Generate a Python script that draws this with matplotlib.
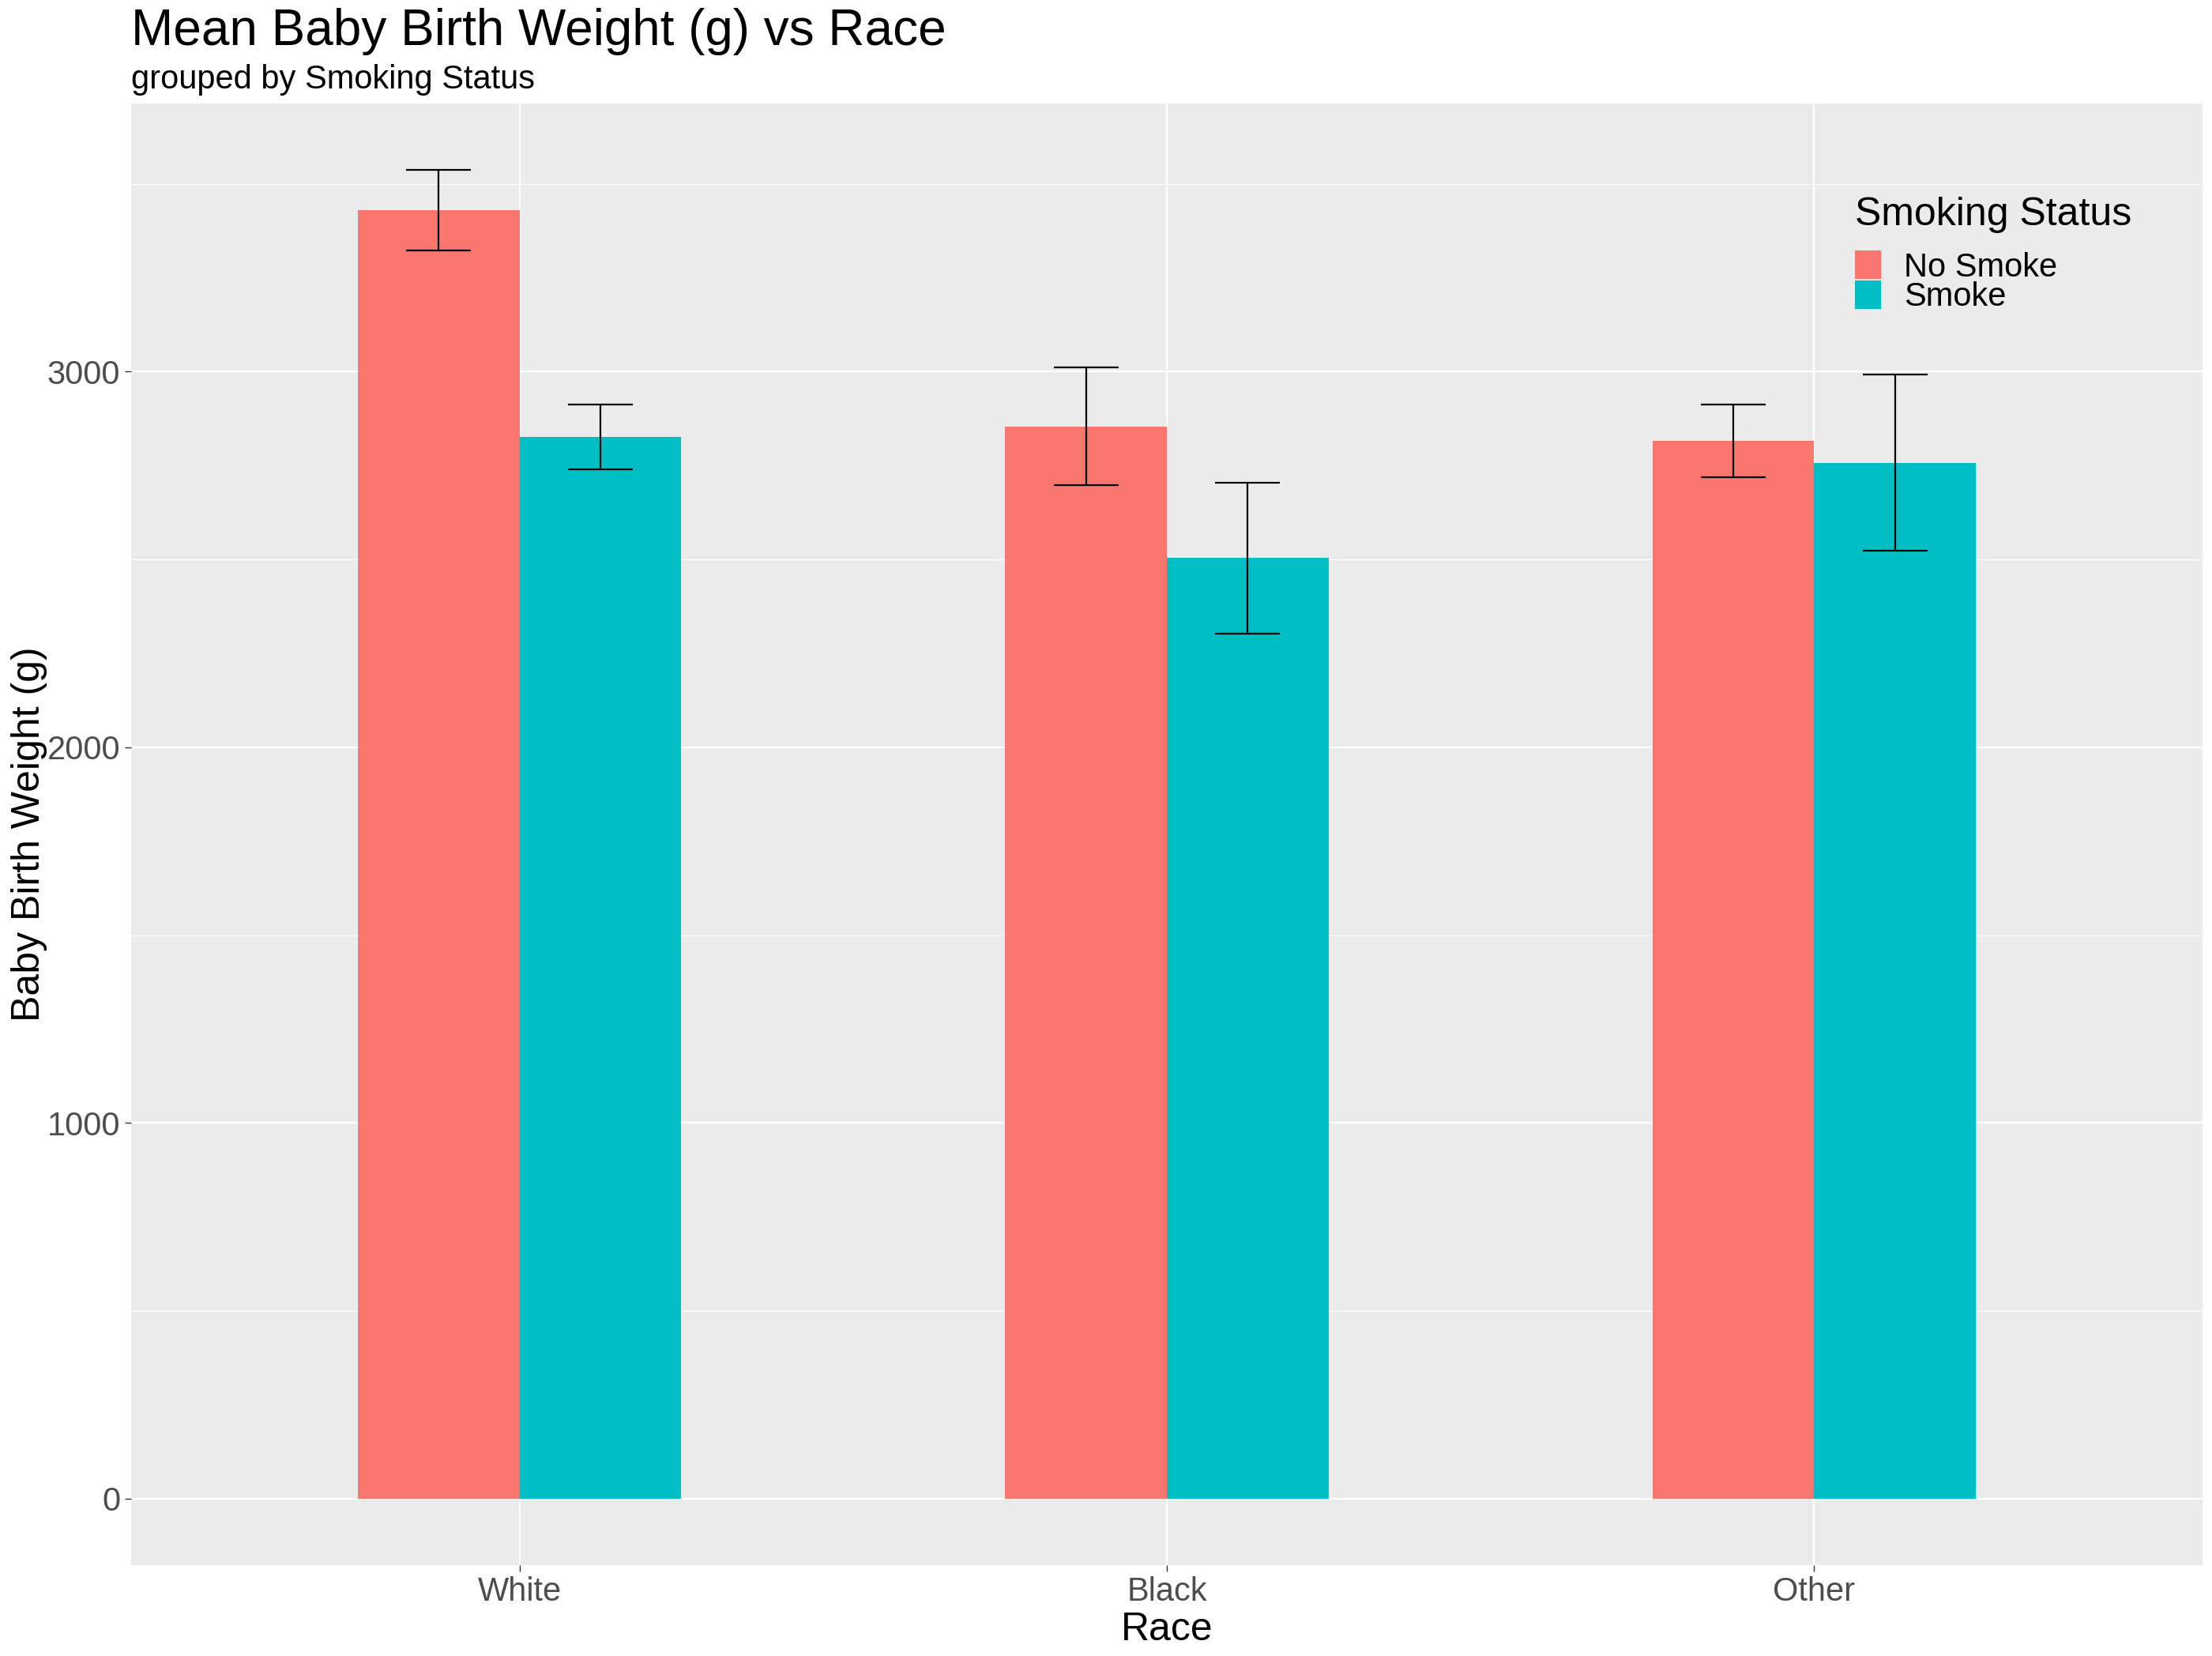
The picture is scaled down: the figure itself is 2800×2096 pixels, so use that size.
import matplotlib
matplotlib.use("Agg")
import matplotlib.pyplot as plt
import numpy as np
from matplotlib.patches import Patch

plt.rcParams['font.family'] = ['Liberation Sans', 'DejaVu Sans']

races = ["White", "Black", "Other"]
groups = ["No Smoke", "Smoke"]
mean_nosmoke = [3429, 2854, 2816]
mean_smoke = [2827, 2504, 2757]
lower_nosmoke = [3322, 2699, 2719]
upper_nosmoke = [3537, 3011, 2912]
lower_smoke = [2741, 2302, 2523]
upper_smoke = [2913, 2705, 2992]
yticks = [0, 1000, 2000, 3000]

colors = ["#F8766D", "#00BFC4"]

W, H, DPI = 2800, 2096, 200
fig = plt.figure(figsize=(W / DPI, H / DPI), dpi=DPI)
ax = fig.add_axes([166 / W, 1 - 1981 / H, (2788 - 166) / W, (1981 - 131) / H])
ax.set_facecolor("#EBEBEB")
for s in ax.spines.values():
    s.set_visible(False)

x = np.arange(1, len(races) + 1)
bw = 0.25
means = [mean_nosmoke, mean_smoke]
lows = [lower_nosmoke, lower_smoke]
ups = [upper_nosmoke, upper_smoke]
offs = [-bw / 2, bw / 2]
for i in range(2):
    xs = x + offs[i]
    ax.bar(xs, means[i], width=bw, color=colors[i], zorder=3, linewidth=0)
    ax.vlines(xs, lows[i], ups[i], color="black", linewidth=0.8, zorder=4)
    ax.hlines(lows[i], xs - 0.05, xs + 0.05, color="black", linewidth=0.8, zorder=4)
    ax.hlines(ups[i], xs - 0.05, xs + 0.05, color="black", linewidth=0.8, zorder=4)

ymax = max(max(upper_nosmoke), max(upper_smoke))
ax.set_ylim(-0.05 * ymax, 1.05 * ymax)
ax.set_xlim(0.4, 3.6)

ax.set_xticks(x)
ax.set_xticklabels(races)
ax.set_yticks(yticks)
ax.set_yticklabels([str(t) for t in yticks])
ax.set_yticks([500, 1500, 2500, 3500], minor=True)
ax.set_xticks([], minor=True)
ax.grid(which="major", color="white", linewidth=0.8, zorder=1)
ax.grid(which="minor", axis="y", color="white", linewidth=0.4, zorder=1)
ax.set_axisbelow(True)
ax.tick_params(which="major", length=2.75, width=0.5, color="#333333",
               labelsize=15, labelcolor="#4D4D4D", pad=2.2)
ax.tick_params(which="minor", length=0)

ax.set_xlabel("Race", fontsize=18, color="black", labelpad=2)
ax.set_ylabel("Baby Birth Weight (g)", fontsize=18, color="black", va="center")
ax.yaxis.set_label_coords((37 - 166) / (2788 - 166), 0.5)

fig.text(166 / W, 1 - 57 / H, "Mean Baby Birth Weight (g) vs Race",
         fontsize=23, va="baseline", ha="left")
fig.text(166 / W, 1 - 112 / H, "grouped by Smoking Status",
         fontsize=15, va="baseline", ha="left")

handles = [Patch(facecolor=colors[i], edgecolor="none", label=groups[i]) for i in range(2)]
leg = ax.legend(handles=handles, title="Smoking Status", loc="upper left",
                bbox_to_anchor=(2348 / W, 1 - 249 / H), bbox_transform=fig.transFigure,
                frameon=False, fontsize=15, title_fontsize=18, alignment="left",
                borderpad=0, borderaxespad=0, handlelength=0.8, handleheight=0.95,
                labelspacing=-0.08, handletextpad=0.7)
leg._legend_box.sep = 8

fig.savefig("out.png", dpi=DPI, facecolor="white")
